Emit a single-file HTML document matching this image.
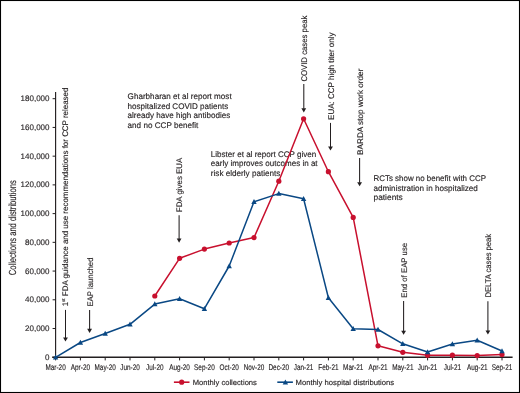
<!DOCTYPE html><html><head><meta charset="utf-8"><style>html,body{margin:0;padding:0;background:#fff;}svg{display:block;will-change:transform;}text{font-family:"Liberation Sans",sans-serif;text-rendering:geometricPrecision;fill:#231f20;stroke:#231f20;stroke-width:0.14px;}</style></head><body>
<svg width="520" height="393" viewBox="0 0 520 393">
<rect x="0" y="0" width="520" height="393" fill="#fff"/>
<rect x="0.5" y="0.5" width="519" height="392" fill="none" stroke="#000" stroke-width="1.1"/>
<line x1="55.6" y1="91.9" x2="55.6" y2="357.25" stroke="#231f20" stroke-width="1.15"/>
<line x1="52.2" y1="357.25" x2="512.6" y2="357.25" stroke="#231f20" stroke-width="1.35"/>
<line x1="52.6" y1="357.25" x2="55.6" y2="357.25" stroke="#231f20" stroke-width="1"/>
<line x1="52.6" y1="328.52" x2="55.6" y2="328.52" stroke="#231f20" stroke-width="1"/>
<line x1="52.6" y1="299.79" x2="55.6" y2="299.79" stroke="#231f20" stroke-width="1"/>
<line x1="52.6" y1="271.07" x2="55.6" y2="271.07" stroke="#231f20" stroke-width="1"/>
<line x1="52.6" y1="242.34" x2="55.6" y2="242.34" stroke="#231f20" stroke-width="1"/>
<line x1="52.6" y1="213.61" x2="55.6" y2="213.61" stroke="#231f20" stroke-width="1"/>
<line x1="52.6" y1="184.88" x2="55.6" y2="184.88" stroke="#231f20" stroke-width="1"/>
<line x1="52.6" y1="156.16" x2="55.6" y2="156.16" stroke="#231f20" stroke-width="1"/>
<line x1="52.6" y1="127.43" x2="55.6" y2="127.43" stroke="#231f20" stroke-width="1"/>
<line x1="52.6" y1="98.70" x2="55.6" y2="98.70" stroke="#231f20" stroke-width="1"/>
<line x1="55.60" y1="357.25" x2="55.60" y2="360.4" stroke="#231f20" stroke-width="1"/>
<line x1="80.40" y1="357.25" x2="80.40" y2="360.4" stroke="#231f20" stroke-width="1"/>
<line x1="105.20" y1="357.25" x2="105.20" y2="360.4" stroke="#231f20" stroke-width="1"/>
<line x1="130.00" y1="357.25" x2="130.00" y2="360.4" stroke="#231f20" stroke-width="1"/>
<line x1="154.80" y1="357.25" x2="154.80" y2="360.4" stroke="#231f20" stroke-width="1"/>
<line x1="179.60" y1="357.25" x2="179.60" y2="360.4" stroke="#231f20" stroke-width="1"/>
<line x1="204.40" y1="357.25" x2="204.40" y2="360.4" stroke="#231f20" stroke-width="1"/>
<line x1="229.20" y1="357.25" x2="229.20" y2="360.4" stroke="#231f20" stroke-width="1"/>
<line x1="254.00" y1="357.25" x2="254.00" y2="360.4" stroke="#231f20" stroke-width="1"/>
<line x1="278.80" y1="357.25" x2="278.80" y2="360.4" stroke="#231f20" stroke-width="1"/>
<line x1="303.60" y1="357.25" x2="303.60" y2="360.4" stroke="#231f20" stroke-width="1"/>
<line x1="328.40" y1="357.25" x2="328.40" y2="360.4" stroke="#231f20" stroke-width="1"/>
<line x1="353.20" y1="357.25" x2="353.20" y2="360.4" stroke="#231f20" stroke-width="1"/>
<line x1="378.00" y1="357.25" x2="378.00" y2="360.4" stroke="#231f20" stroke-width="1"/>
<line x1="402.80" y1="357.25" x2="402.80" y2="360.4" stroke="#231f20" stroke-width="1"/>
<line x1="427.60" y1="357.25" x2="427.60" y2="360.4" stroke="#231f20" stroke-width="1"/>
<line x1="452.40" y1="357.25" x2="452.40" y2="360.4" stroke="#231f20" stroke-width="1"/>
<line x1="477.20" y1="357.25" x2="477.20" y2="360.4" stroke="#231f20" stroke-width="1"/>
<line x1="502.00" y1="357.25" x2="502.00" y2="360.4" stroke="#231f20" stroke-width="1"/>
<text x="49.5" y="359.85" font-size="8" text-anchor="end">0</text>
<text x="49.5" y="331.12" font-size="8" text-anchor="end">20,000</text>
<text x="49.5" y="302.39" font-size="8" text-anchor="end">40,000</text>
<text x="49.5" y="273.67" font-size="8" text-anchor="end">60,000</text>
<text x="49.5" y="244.94" font-size="8" text-anchor="end">80,000</text>
<text x="49.5" y="216.21" font-size="8" text-anchor="end">100,000</text>
<text x="49.5" y="187.48" font-size="8" text-anchor="end">120,000</text>
<text x="49.5" y="158.76" font-size="8" text-anchor="end">140,000</text>
<text x="49.5" y="130.03" font-size="8" text-anchor="end">160,000</text>
<text x="49.5" y="101.30" font-size="8" text-anchor="end">180,000</text>
<text x="55.60" y="370.1" font-size="8.2" text-anchor="middle" textLength="20.25" lengthAdjust="spacingAndGlyphs">Mar-20</text>
<text x="80.40" y="370.1" font-size="8.2" text-anchor="middle" textLength="19.19" lengthAdjust="spacingAndGlyphs">Apr-20</text>
<text x="105.20" y="370.1" font-size="8.2" text-anchor="middle" textLength="21.32" lengthAdjust="spacingAndGlyphs">May-20</text>
<text x="130.00" y="370.1" font-size="8.2" text-anchor="middle" textLength="19.55" lengthAdjust="spacingAndGlyphs">Jun-20</text>
<text x="154.80" y="370.1" font-size="8.2" text-anchor="middle" textLength="17.41" lengthAdjust="spacingAndGlyphs">Jul-20</text>
<text x="179.60" y="370.1" font-size="8.2" text-anchor="middle" textLength="20.62" lengthAdjust="spacingAndGlyphs">Aug-20</text>
<text x="204.40" y="370.1" font-size="8.2" text-anchor="middle" textLength="20.62" lengthAdjust="spacingAndGlyphs">Sep-20</text>
<text x="229.20" y="370.1" font-size="8.2" text-anchor="middle" textLength="19.19" lengthAdjust="spacingAndGlyphs">Oct-20</text>
<text x="254.00" y="370.1" font-size="8.2" text-anchor="middle" textLength="20.61" lengthAdjust="spacingAndGlyphs">Nov-20</text>
<text x="278.80" y="370.1" font-size="8.2" text-anchor="middle" textLength="20.61" lengthAdjust="spacingAndGlyphs">Dec-20</text>
<text x="303.60" y="370.1" font-size="8.2" text-anchor="middle" textLength="19.55" lengthAdjust="spacingAndGlyphs">Jan-21</text>
<text x="328.40" y="370.1" font-size="8.2" text-anchor="middle" textLength="20.26" lengthAdjust="spacingAndGlyphs">Feb-21</text>
<text x="353.20" y="370.1" font-size="8.2" text-anchor="middle" textLength="20.25" lengthAdjust="spacingAndGlyphs">Mar-21</text>
<text x="378.00" y="370.1" font-size="8.2" text-anchor="middle" textLength="19.19" lengthAdjust="spacingAndGlyphs">Apr-21</text>
<text x="402.80" y="370.1" font-size="8.2" text-anchor="middle" textLength="21.32" lengthAdjust="spacingAndGlyphs">May-21</text>
<text x="427.60" y="370.1" font-size="8.2" text-anchor="middle" textLength="19.55" lengthAdjust="spacingAndGlyphs">Jun-21</text>
<text x="452.40" y="370.1" font-size="8.2" text-anchor="middle" textLength="17.41" lengthAdjust="spacingAndGlyphs">Jul-21</text>
<text x="477.20" y="370.1" font-size="8.2" text-anchor="middle" textLength="20.62" lengthAdjust="spacingAndGlyphs">Aug-21</text>
<text x="502.00" y="370.1" font-size="8.2" text-anchor="middle" textLength="20.62" lengthAdjust="spacingAndGlyphs">Sep-21</text>
<text transform="translate(15.8,227.8) rotate(-90)" x="0" y="0" font-size="10.3" text-anchor="middle" textLength="95" lengthAdjust="spacingAndGlyphs">Collections and distributions</text>
<text transform="translate(68.40,306.30) rotate(-90)" x="0" y="0" font-size="8.1" textLength="218.70" lengthAdjust="spacingAndGlyphs">1<tspan font-size="4.6" dy="-3">st</tspan><tspan dy="3"> FDA guidance and use recommendations for CCP released</tspan></text>
<line x1="65.5" y1="309.9" x2="65.5" y2="338.00" stroke="#231f20" stroke-width="1.05"/>
<path d="M63.10 337.50 L67.90 337.50 L65.50 341.60 Z" fill="#231f20"/>
<text transform="translate(92.50,306.60) rotate(-90)" x="0" y="0" font-size="8.1" textLength="49.10" lengthAdjust="spacingAndGlyphs">EAP launched</text>
<line x1="89.6" y1="309.9" x2="89.6" y2="329.30" stroke="#231f20" stroke-width="1.05"/>
<path d="M87.20 328.80 L92.00 328.80 L89.60 332.90 Z" fill="#231f20"/>
<text transform="translate(182.00,212.20) rotate(-90)" x="0" y="0" font-size="8.1" textLength="54.50" lengthAdjust="spacingAndGlyphs">FDA gives EUA</text>
<line x1="179.1" y1="215.2" x2="179.1" y2="239.10" stroke="#231f20" stroke-width="1.05"/>
<path d="M176.70 238.60 L181.50 238.60 L179.10 242.70 Z" fill="#231f20"/>
<text transform="translate(306.70,81.60) rotate(-90)" x="0" y="0" font-size="8.2" textLength="66.00" lengthAdjust="spacingAndGlyphs">COVID cases peak</text>
<line x1="303.8" y1="84.0" x2="303.8" y2="108.80" stroke="#231f20" stroke-width="1.05"/>
<path d="M301.40 108.30 L306.20 108.30 L303.80 112.40 Z" fill="#231f20"/>
<text transform="translate(333.80,119.90) rotate(-90)" x="0" y="0" font-size="8.2" textLength="87.40" lengthAdjust="spacingAndGlyphs">EUA: CCP high titer only</text>
<line x1="330.5" y1="122.9" x2="330.5" y2="147.00" stroke="#231f20" stroke-width="1.05"/>
<path d="M328.10 146.50 L332.90 146.50 L330.50 150.60 Z" fill="#231f20"/>
<text transform="translate(362.50,154.90) rotate(-90)" x="0" y="0" font-size="8.2" textLength="86.30" lengthAdjust="spacingAndGlyphs">BARDA stop work order</text>
<line x1="359.6" y1="158.1" x2="359.6" y2="182.70" stroke="#231f20" stroke-width="1.05"/>
<path d="M357.20 182.20 L362.00 182.20 L359.60 186.30 Z" fill="#231f20"/>
<text transform="translate(406.50,297.80) rotate(-90)" x="0" y="0" font-size="8.1" textLength="55.00" lengthAdjust="spacingAndGlyphs">End of EAP use</text>
<line x1="403.6" y1="301.0" x2="403.6" y2="331.20" stroke="#231f20" stroke-width="1.05"/>
<path d="M401.20 330.70 L406.00 330.70 L403.60 334.80 Z" fill="#231f20"/>
<text transform="translate(490.80,297.60) rotate(-90)" x="0" y="0" font-size="8.2" textLength="63.70" lengthAdjust="spacingAndGlyphs">DELTA cases peak</text>
<line x1="487.9" y1="301.2" x2="487.9" y2="330.90" stroke="#231f20" stroke-width="1.05"/>
<path d="M485.50 330.40 L490.30 330.40 L487.90 334.50 Z" fill="#231f20"/>
<text x="127.60" y="99.4" font-size="8.2" textLength="104.10" lengthAdjust="spacingAndGlyphs">Gharbharan et al report most</text>
<text x="127.60" y="108.8" font-size="8.2" textLength="100.70" lengthAdjust="spacingAndGlyphs">hospitalized COVID patients</text>
<text x="127.60" y="118.2" font-size="8.2" textLength="102.60" lengthAdjust="spacingAndGlyphs">already have high antibodies</text>
<text x="127.60" y="127.5" font-size="8.2" textLength="70.70" lengthAdjust="spacingAndGlyphs">and no CCP benefit</text>
<text x="210.80" y="156.5" font-size="8.2" textLength="105.40" lengthAdjust="spacingAndGlyphs">Libster et al report CCP given</text>
<text x="210.80" y="166.2" font-size="8.2" textLength="106.80" lengthAdjust="spacingAndGlyphs">early improves outcomes in at</text>
<text x="210.80" y="175.8" font-size="8.2" textLength="69.60" lengthAdjust="spacingAndGlyphs">risk elderly patients</text>
<text x="373.50" y="181.3" font-size="8.2" textLength="112.50" lengthAdjust="spacingAndGlyphs">RCTs show no benefit with CCP</text>
<text x="373.50" y="190.5" font-size="8.2" textLength="104.40" lengthAdjust="spacingAndGlyphs">administration in hospitalized</text>
<text x="373.50" y="199.7" font-size="8.2" textLength="29.30" lengthAdjust="spacingAndGlyphs">patients</text>
<polyline points="154.80,296.0 179.60,258.3 204.40,249.1 229.20,243.0 254.00,237.6 278.80,181.2 303.60,118.8 328.40,171.7 353.20,217.4 378.00,345.8 402.80,352.3 427.60,355.2 452.40,355.2 477.20,355.6 502.00,354.5" fill="none" stroke="#c8102e" stroke-width="1.5" stroke-linejoin="round"/>
<circle cx="154.80" cy="296.0" r="2.6" fill="#c8102e"/>
<circle cx="179.60" cy="258.3" r="2.6" fill="#c8102e"/>
<circle cx="204.40" cy="249.1" r="2.6" fill="#c8102e"/>
<circle cx="229.20" cy="243.0" r="2.6" fill="#c8102e"/>
<circle cx="254.00" cy="237.6" r="2.6" fill="#c8102e"/>
<circle cx="278.80" cy="181.2" r="2.6" fill="#c8102e"/>
<circle cx="303.60" cy="118.8" r="2.6" fill="#c8102e"/>
<circle cx="328.40" cy="171.7" r="2.6" fill="#c8102e"/>
<circle cx="353.20" cy="217.4" r="2.6" fill="#c8102e"/>
<circle cx="378.00" cy="345.8" r="2.6" fill="#c8102e"/>
<circle cx="402.80" cy="352.3" r="2.6" fill="#c8102e"/>
<circle cx="427.60" cy="355.2" r="2.6" fill="#c8102e"/>
<circle cx="452.40" cy="355.2" r="2.6" fill="#c8102e"/>
<circle cx="477.20" cy="355.6" r="2.6" fill="#c8102e"/>
<circle cx="502.00" cy="354.5" r="2.6" fill="#c8102e"/>
<polyline points="55.60,357.3 80.40,342.5 105.20,333.5 130.00,324.3 154.80,304.1 179.60,298.7 204.40,308.7 229.20,266.0 254.00,201.8 278.80,193.6 303.60,198.7 328.40,297.7 353.20,328.7 378.00,329.5 402.80,343.8 427.60,352.0 452.40,344.0 477.20,340.2 502.00,351.0" fill="none" stroke="#0a4884" stroke-width="1.5" stroke-linejoin="round"/>
<path d="M55.60 354.50 L58.30 359.50 L52.90 359.50 Z" fill="#0a4884"/>
<path d="M80.40 339.70 L83.10 344.70 L77.70 344.70 Z" fill="#0a4884"/>
<path d="M105.20 330.70 L107.90 335.70 L102.50 335.70 Z" fill="#0a4884"/>
<path d="M130.00 321.50 L132.70 326.50 L127.30 326.50 Z" fill="#0a4884"/>
<path d="M154.80 301.30 L157.50 306.30 L152.10 306.30 Z" fill="#0a4884"/>
<path d="M179.60 295.90 L182.30 300.90 L176.90 300.90 Z" fill="#0a4884"/>
<path d="M204.40 305.90 L207.10 310.90 L201.70 310.90 Z" fill="#0a4884"/>
<path d="M229.20 263.20 L231.90 268.20 L226.50 268.20 Z" fill="#0a4884"/>
<path d="M254.00 199.00 L256.70 204.00 L251.30 204.00 Z" fill="#0a4884"/>
<path d="M278.80 190.80 L281.50 195.80 L276.10 195.80 Z" fill="#0a4884"/>
<path d="M303.60 195.90 L306.30 200.90 L300.90 200.90 Z" fill="#0a4884"/>
<path d="M328.40 294.90 L331.10 299.90 L325.70 299.90 Z" fill="#0a4884"/>
<path d="M353.20 325.90 L355.90 330.90 L350.50 330.90 Z" fill="#0a4884"/>
<path d="M378.00 326.70 L380.70 331.70 L375.30 331.70 Z" fill="#0a4884"/>
<path d="M402.80 341.00 L405.50 346.00 L400.10 346.00 Z" fill="#0a4884"/>
<path d="M427.60 349.20 L430.30 354.20 L424.90 354.20 Z" fill="#0a4884"/>
<path d="M452.40 341.20 L455.10 346.20 L449.70 346.20 Z" fill="#0a4884"/>
<path d="M477.20 337.40 L479.90 342.40 L474.50 342.40 Z" fill="#0a4884"/>
<path d="M502.00 348.20 L504.70 353.20 L499.30 353.20 Z" fill="#0a4884"/>
<line x1="173.9" y1="382.2" x2="189.5" y2="382.2" stroke="#c8102e" stroke-width="1.6"/>
<circle cx="181.7" cy="382.2" r="2.6" fill="#c8102e"/>
<text x="192.7" y="384.5" font-size="7.6" textLength="64.2" lengthAdjust="spacingAndGlyphs">Monthly collections</text>
<line x1="277.3" y1="382.2" x2="292.9" y2="382.2" stroke="#0a4884" stroke-width="1.6"/>
<path d="M285.40 379.40 L288.10 384.40 L282.70 384.40 Z" fill="#0a4884"/>
<text x="295.5" y="384.5" font-size="7.6" textLength="98.7" lengthAdjust="spacingAndGlyphs">Monthly hospital distributions</text>
</svg></body></html>
